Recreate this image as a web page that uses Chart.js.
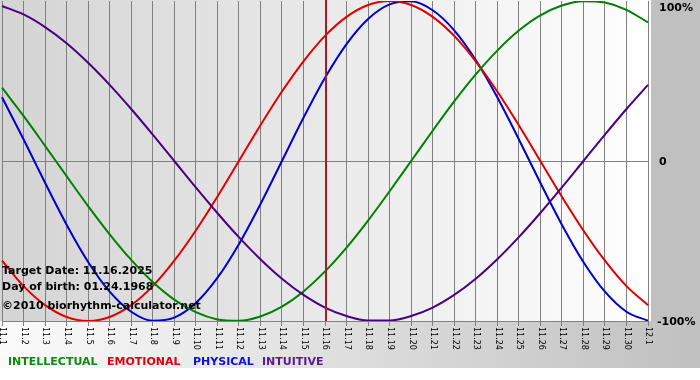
<!DOCTYPE html>
<html><head><meta charset="utf-8">
<script src="https://cdn.jsdelivr.net/npm/chart.js@4/dist/chart.umd.min.js"></script>
<style>html,body{margin:0;padding:0;background:#fff}canvas{display:block}</style>
</head><body>
<canvas id="c" width="700" height="380"></canvas>
<script>
const dayLabels = ['11.1','11.2','11.3','11.4','11.5','11.6','11.7','11.8','11.9','11.10','11.11','11.12','11.13','11.14','11.15','11.16','11.17','11.18','11.19','11.20','11.21','11.22','11.23','11.24','11.25','11.26','11.27','11.28','11.29','11.30','12.1'];
const intellectual = [45.8,28.2,9.5,-9.5,-28.2,-45.8,-61.8,-75.6,-86.6,-94.5,-99.0,-99.9,-97.2,-91.0,-81.5,-69.0,-54.1,-37.2,-18.9,0,18.9,37.2,54.1,69.0,81.5,91.0,97.2,99.9,99.0,94.5,86.6];
const emotional = [-62.3,-78.2,-90.1,-97.5,-100,-97.5,-90.1,-78.2,-62.3,-43.4,-22.3,0,22.3,43.4,62.3,78.2,90.1,97.5,100,97.5,90.1,78.2,62.3,43.4,22.3,0,-22.3,-43.4,-62.3,-78.2,-90.1];
const physical = [39.8,13.6,-13.6,-39.8,-63.1,-81.7,-94.2,-99.8,-97.9,-88.8,-73.1,-52.0,-27.0,0,27.0,52.0,73.1,88.8,97.9,99.8,94.2,81.7,63.1,39.8,13.6,-13.6,-39.8,-63.1,-81.7,-94.2,-99.8];
const intuitive = [96.9,91.6,83.7,73.6,61.4,47.6,32.5,16.5,0,-16.5,-32.5,-47.6,-61.4,-73.6,-83.7,-91.6,-96.9,-99.7,-99.7,-96.9,-91.6,-83.7,-73.6,-61.4,-47.6,-32.5,-16.5,0,16.5,32.5,47.6];
const yTickLabels = {100:'100%', 0:'0', '-100':'-100%'};
const targetIndex = 15;
const seriesNames = ['INTELLECTUAL','EMOTIONAL','PHYSICAL','INTUITIVE'];
const seriesColors = ['#008000','#e00000','#0000cc','#4b0082'];
const legendColors = ['#118811','#e00010','#1010dd','#5a1a90'];
const infoLines = ['Target Date: 11.16.2025','Day of birth: 01.24.1968','\u00a92010 biorhythm-calculator.net'];

const bgPlugin = {
  id:'bg',
  beforeDraw(chart){
    const ctx = chart.ctx, a = chart.chartArea, W = chart.width, H = chart.height;
    ctx.save();
    ctx.fillStyle = '#ffffff'; ctx.fillRect(0,0,W,H);
    let g = ctx.createLinearGradient(0,0,W,0);
    g.addColorStop(0,'#fbfbfb'); g.addColorStop(1,'#c0c0c0');
    ctx.fillStyle = g; ctx.fillRect(0,a.bottom,W,368-a.bottom);
    ctx.fillStyle = '#c0c0c0'; ctx.fillRect(a.right+3,0,W-a.right-3,a.bottom);
    g = ctx.createLinearGradient(0,0,a.right+3,0);
    g.addColorStop(0,'#d4d4d4'); g.addColorStop(1,'#ffffff');
    ctx.fillStyle = g; ctx.fillRect(0,0,a.right+3,a.bottom);
    ctx.restore();
  },
  afterDatasetsDraw(chart){
    const ctx = chart.ctx, a = chart.chartArea, xs = chart.scales.x;
    ctx.save();
    const mx = Math.round(xs.getPixelForTick(targetIndex));
    ctx.strokeStyle = '#7a1010'; ctx.lineWidth = 2;
    ctx.beginPath(); ctx.moveTo(mx+1, a.top-1); ctx.lineTo(mx+1, a.bottom); ctx.stroke();
    ctx.strokeStyle = '#c03040'; ctx.lineWidth = 1;
    ctx.beginPath(); ctx.moveTo(mx+1, a.top-1); ctx.lineTo(mx+1, a.bottom); ctx.stroke();
    ctx.fillStyle = '#000'; ctx.font = 'bold 11px "DejaVu Sans"'; ctx.textBaseline = 'middle'; ctx.textAlign='left';
    ctx.fillText(infoLines[0], 2, 271);
    ctx.fillText(infoLines[1], 2, 287);
    ctx.fillText(infoLines[2], 2, 306);
    ctx.restore();
  },
  afterDraw(chart){
    const ctx = chart.ctx, a = chart.chartArea, xs = chart.scales.x, ys = chart.scales.y;
    ctx.save();
    ctx.font = '8px "DejaVu Sans"'; ctx.fillStyle = '#000'; ctx.textBaseline = 'middle'; ctx.textAlign = 'left';
    dayLabels.forEach((lab,i)=>{
      const x = xs.getPixelForTick(i);
      ctx.save(); ctx.translate(x+0.5, a.bottom+6); ctx.rotate(Math.PI/2); ctx.fillText(lab,0,0); ctx.restore();
    });
    ctx.font = 'bold 11px "DejaVu Sans"'; ctx.textAlign='left';
    ys.ticks.forEach(t=>{
      const lab = yTickLabels[t.value]; if(lab===undefined) return;
      let y = ys.getPixelForValue(t.value);
      if (t.value===100) y += 6;
      ctx.fillText(lab, t.value<0 ? 657 : 659, y+1);
    });
    const xsLeg = [8,107,193,262];
    seriesNames.forEach((n,i)=>{ ctx.fillStyle = legendColors[i]; ctx.fillText(n, xsLeg[i], 362); });
    ctx.restore();
  }
};

const mk = (label, data, color) => ({label, data, borderColor: color, backgroundColor: color, borderWidth: 2, pointRadius: 0, cubicInterpolationMode: 'monotone', fill: false});

new Chart(document.getElementById('c'), {
  type: 'line',
  data: {
    labels: dayLabels,
    datasets: [
      mk(seriesNames[3], intuitive, seriesColors[3]),
      mk(seriesNames[0], intellectual, seriesColors[0]),
      mk(seriesNames[1], emotional, seriesColors[1]),
      mk(seriesNames[2], physical, seriesColors[2])
    ]
  },
  options: {
    responsive: false, animation: false, devicePixelRatio: 1,
    layout: {padding: {left: 2, top: 1, right: 52, bottom: 54}},
    plugins: {legend: {display: false}, tooltip: {enabled: false}},
    scales: {
      x: {
        type: 'category', offset: false,
        ticks: {display: false},
        grid: {color: '#808080', lineWidth: 1, drawTicks: true, tickLength: 5},
        border: {display: false}
      },
      y: {
        position: 'right', min: -100, max: 100,
        ticks: {display: false, stepSize: 100},
        grid: {drawTicks: false, color: ctx => ctx.tick && ctx.tick.value === 100 ? 'rgba(0,0,0,0)' : '#808080'},
        border: {display: false}
      }
    }
  },
  plugins: [bgPlugin]
});
</script>
</body></html>
